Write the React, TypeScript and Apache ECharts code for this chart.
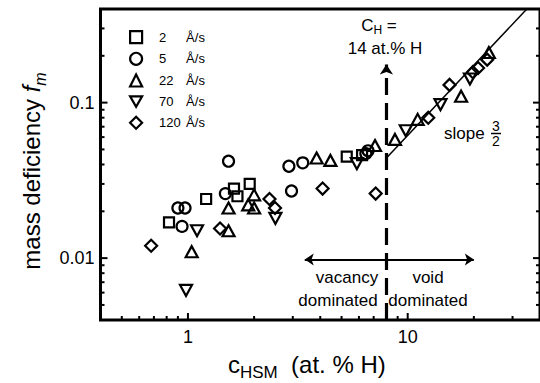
import React, { useEffect, useRef } from "react";
import * as echarts from "echarts";

// ---- data ----
const seriesNames = ["2 Å/s", "5 Å/s", "22 Å/s", "70 Å/s", "120 Å/s"];
const rateNumbers = ["2", "5", "22", "70", "120"];

const rate2 = [[0.82, 0.017], [1.21, 0.024], [1.62, 0.028], [1.68, 0.025], [1.91, 0.03], [5.28, 0.045], [6.2, 0.046]];
const rate5 = [[0.9, 0.021], [0.97, 0.021], [0.94, 0.016], [1.48, 0.026], [1.53, 0.042], [2.88, 0.039], [2.96, 0.027], [3.33, 0.041], [6.45, 0.047], [6.6, 0.049]];
const rate22 = [[1.04, 0.011], [1.53, 0.021], [1.53, 0.015], [1.88, 0.022], [2.0, 0.021], [2.0, 0.0255], [3.85, 0.044], [4.45, 0.0425], [7.1, 0.053], [8.75, 0.058], [11.1, 0.078], [17.5, 0.11], [23.4, 0.21]];
const rate70 = [[0.98, 0.0062], [1.1, 0.015], [2.5, 0.018], [5.87, 0.0405], [9.8, 0.066], [14.1, 0.097], [19.2, 0.142]];
const rate120 = [[0.68, 0.012], [1.4, 0.0155], [2.35, 0.024], [2.49, 0.021], [4.1, 0.028], [7.15, 0.026], [12.4, 0.08], [15.5, 0.13], [19.8, 0.157], [20.9, 0.167], [23.0, 0.189]];

const xTickLabels = [1, 10];
const yTickLabels = [0.01, 0.1];
const xMinorTicks = [0.5, 0.6, 0.7, 0.8, 0.9, 2, 3, 4, 5, 6, 7, 8, 9, 20, 30];
const yMinorTicks = [0.005, 0.006, 0.007, 0.008, 0.009, 0.02, 0.03, 0.04, 0.05, 0.06, 0.07, 0.08, 0.09, 0.2, 0.3];

const slopeLine = [[8.0, 0.044], [36, 0.42]];
const thresholdLine = [[8.0, 0.004], [8.0, 0.176]];
const regimeArrow = [[3.4, 0.0098], [20, 0.0098]];

const X_MIN = 0.4, X_MAX = 40, Y_MIN = 0.004, Y_MAX = 0.4;

const FONT = "'Liberation Sans', Arial, Helvetica, sans-serif";
const downTri = "path://M0,0L10,0L5,8.66Z";

const symbols = ["rect", "circle", "triangle", downTri, "diamond"];
const sizes: any[] = [[10, 10], 11, [12, 11], [12, 11], [12, 12]];
const seriesData = [rate2, rate5, rate22, rate70, rate120];

type Tick = { side: "b" | "l" | "r"; v: number; major: boolean };
const tickSpecs: Tick[] = [
  ...xTickLabels.map((v) => ({ side: "b" as const, v, major: true })),
  ...xMinorTicks.map((v) => ({ side: "b" as const, v, major: false })),
  ...yTickLabels.flatMap((v) => [
    { side: "l" as const, v, major: true },
    { side: "r" as const, v, major: true },
  ]),
  ...yMinorTicks.flatMap((v) => [
    { side: "l" as const, v, major: false },
    { side: "r" as const, v, major: false },
  ]),
];

function matchLabel(v: number, list: number[]) {
  for (const l of list) if (Math.abs(Math.log10(v) - Math.log10(l)) < 1e-6) return String(l);
  return "";
}

export default function App() {
  const ref = useRef<HTMLDivElement>(null);
  useEffect(() => {
    if (!ref.current) return;
    const chart = echarts.init(ref.current, null, { renderer: "svg" });
    const scatter = seriesNames.map((name, i) => ({
      name,
      type: "scatter",
      data: seriesData[i],
      symbol: symbols[i],
      symbolSize: sizes[i],
      itemStyle: { color: "transparent", borderColor: "#000", borderWidth: 2.2, opacity: 1 },
      emphasis: { disabled: true },
      z: 5,
    }));
    chart.setOption({
      animation: false,
      textStyle: { fontFamily: FONT, color: "#000" },
      grid: {
        left: 100.5,
        top: 9,
        width: 442,
        height: 311,
        show: true,
        borderWidth: 3,
        borderColor: "#000",
        backgroundColor: "transparent",
      },
      legend: {
        orient: "vertical",
        left: 124,
        top: 25,
        itemWidth: 12,
        itemHeight: 12,
        itemGap: 7.5,
        selectedMode: false,
        data: seriesNames.map((n, i) => ({ name: n, icon: symbols[i] })),
        itemStyle: { color: "transparent", borderColor: "#000", borderWidth: 2.2, opacity: 1 },
        formatter: (name: string) => {
          const i = seriesNames.indexOf(name);
          return `{n|${rateNumbers[i]}}{u|Å/s}`;
        },
        textStyle: {
          fontFamily: FONT,
          color: "#000",
          fontSize: 13,
          rich: {
            n: { width: 27, padding: [0, 0, 0, 12], fontSize: 13, fontFamily: FONT, lineHeight: 12 },
            u: { fontSize: 13, fontFamily: FONT, lineHeight: 12 },
          },
        },
      },
      xAxis: {
        type: "log",
        logBase: 10,
        min: X_MIN,
        max: X_MAX,
        splitLine: { show: false },
        axisTick: { show: false },
        axisLine: { show: false },
        axisLabel: {
          show: true,
          margin: 8,
          fontSize: 18,
          fontFamily: FONT,
          color: "#000",
          showMinLabel: false,
          showMaxLabel: false,
          formatter: (v: number) => matchLabel(v, xTickLabels),
        },
      },
      yAxis: {
        type: "log",
        logBase: 10,
        min: Y_MIN,
        max: Y_MAX,
        splitLine: { show: false },
        axisTick: { show: false },
        axisLine: { show: false },
        axisLabel: {
          show: true,
          margin: 6,
          fontSize: 18,
          fontFamily: FONT,
          color: "#000",
          showMinLabel: false,
          showMaxLabel: false,
          formatter: (v: number) => matchLabel(v, yTickLabels),
        },
      },
      series: [
        ...scatter,
        {
          name: "slope",
          type: "line",
          data: slopeLine,
          showSymbol: false,
          symbol: "none",
          lineStyle: { color: "#000", width: 1.5 },
          silent: true,
          z: 3,
        },
        {
          name: "threshold",
          type: "lines",
          coordinateSystem: "cartesian2d",
          data: [{ coords: thresholdLine }],
          symbol: ["none", "arrow"],
          symbolSize: 10,
          lineStyle: { color: "#000", width: 3.2, type: [17, 8], opacity: 1 },
          silent: true,
          z: 3,
        },
        {
          name: "regime",
          type: "lines",
          coordinateSystem: "cartesian2d",
          data: [{ coords: regimeArrow }],
          symbol: ["arrow", "arrow"],
          symbolSize: 9,
          lineStyle: { color: "#000", width: 1.8, opacity: 1 },
          silent: true,
          z: 3,
        },
        {
          name: "ticks",
          type: "custom",
          silent: true,
          clip: false,
          data: tickSpecs.map((t) => (t.side === "b" ? [t.v, Y_MIN] : [t.side === "l" ? X_MIN : X_MAX, t.v])),
          renderItem: (params: any, api: any) => {
            const t = tickSpecs[params.dataIndex];
            const p = api.coord([api.value(0), api.value(1)]);
            const len = t.major ? 7 : 4;
            let x2 = p[0], y2 = p[1];
            if (t.side === "b") y2 -= len;
            else if (t.side === "l") x2 += len;
            else x2 -= len;
            return {
              type: "line",
              shape: { x1: p[0], y1: p[1], x2, y2 },
              style: { stroke: "#000", lineWidth: 2 },
            };
          },
          z: 6,
        },
      ],
      graphic: [
        {
          type: "text",
          x: 31,
          y: 171,
          rotation: Math.PI / 2,
          style: {
            text: "{a|mass deficiency }{f|f}{m|m}",
            align: "center",
            verticalAlign: "middle",
            fill: "#000",
            rich: {
              a: { fontSize: 24, fontFamily: FONT, lineHeight: 34, verticalAlign: "middle" },
              f: { fontSize: 24, fontFamily: FONT, fontStyle: "italic", lineHeight: 34, verticalAlign: "middle" },
              m: { fontSize: 16, fontFamily: FONT, fontStyle: "italic", lineHeight: 16, verticalAlign: "bottom" },
            },
          },
        },
        {
          type: "text",
          x: 228,
          y: 364,
          style: {
            text: "{a|c}{s|HSM}{a|  (at. % H)}",
            align: "left",
            verticalAlign: "middle",
            fill: "#000",
            rich: {
              a: { fontSize: 24, fontFamily: FONT, lineHeight: 34, verticalAlign: "middle" },
              s: { fontSize: 17, fontFamily: FONT, lineHeight: 17, verticalAlign: "bottom" },
            },
          },
        },
        {
          type: "text",
          x: 379,
          y: 25,
          style: {
            text: "{a|C}{s|H}{a| =}",
            align: "center",
            verticalAlign: "middle",
            fill: "#000",
            rich: {
              a: { fontSize: 17, fontFamily: FONT, lineHeight: 22, verticalAlign: "middle" },
              s: { fontSize: 12, fontFamily: FONT, lineHeight: 12, verticalAlign: "bottom" },
            },
          },
        },
        {
          type: "text",
          x: 385,
          y: 48,
          style: { text: "14 at.% H", fontSize: 17, fontFamily: FONT, align: "center", verticalAlign: "middle", fill: "#000" },
        },
        {
          type: "text",
          x: 347,
          y: 277,
          style: { text: "vacancy", fontSize: 17, fontFamily: FONT, align: "center", verticalAlign: "middle", fill: "#000" },
        },
        {
          type: "text",
          x: 338,
          y: 300,
          style: { text: "dominated", fontSize: 17, fontFamily: FONT, align: "center", verticalAlign: "middle", fill: "#000" },
        },
        {
          type: "text",
          x: 428,
          y: 277,
          style: { text: "void", fontSize: 17, fontFamily: FONT, align: "center", verticalAlign: "middle", fill: "#000" },
        },
        {
          type: "text",
          x: 428,
          y: 300,
          style: { text: "dominated", fontSize: 17, fontFamily: FONT, align: "center", verticalAlign: "middle", fill: "#000" },
        },
        {
          type: "text",
          x: 444,
          y: 133,
          style: { text: "slope", fontSize: 17, fontFamily: FONT, align: "left", verticalAlign: "middle", fill: "#000" },
        },
        {
          type: "text",
          x: 496,
          y: 126,
          style: { text: "3", fontSize: 14, fontFamily: FONT, align: "center", verticalAlign: "middle", fill: "#000" },
        },
        {
          type: "text",
          x: 496,
          y: 141,
          style: { text: "2", fontSize: 14, fontFamily: FONT, align: "center", verticalAlign: "middle", fill: "#000" },
        },
        {
          type: "line",
          shape: { x1: 491, y1: 133.5, x2: 501, y2: 133.5 },
          style: { stroke: "#000", lineWidth: 1.5 },
        },
      ],
    });
    return () => chart.dispose();
  }, []);
  return (
    <div
      ref={ref}
      style={{ position: "fixed", left: 0, top: 0, width: 540, height: 383, background: "#fff" }}
    />
  );
}
